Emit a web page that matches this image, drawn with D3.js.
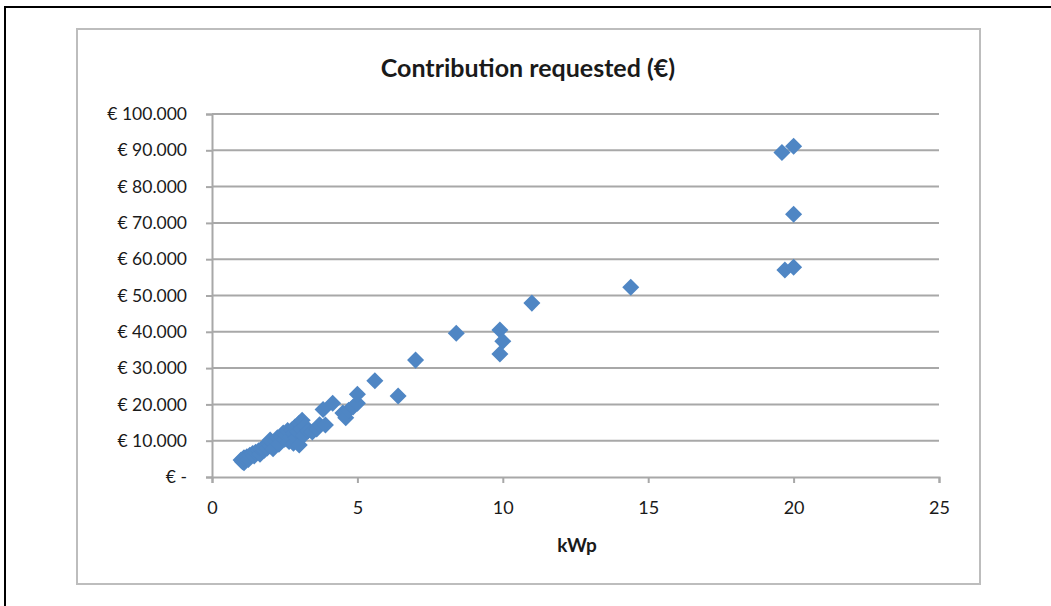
<!DOCTYPE html>
<html>
<head>
<meta charset="utf-8">
<script src="https://cdn.jsdelivr.net/npm/d3@7"></script>
<style>
  html, body { margin: 0; padding: 0; background: #fff; }
  svg { display: block; }
  text { font-family: Lato, "Open Sans", "Liberation Sans", sans-serif; fill: #1a1a1a; }
</style>
</head>
<body>
<svg id="chart" width="1051" height="606"></svg>
<script>
// Installed capacity (kWp) of each request
const kWp = [
  1.0, 1.05, 1.1, 1.1, 1.2, 1.25, 1.3, 1.4, 1.45, 1.5,
  1.6, 1.65, 1.7, 1.8, 1.8, 1.9, 1.95, 2.0, 2.0, 2.1,
  2.1, 2.2, 2.25, 2.3, 2.4, 2.45, 2.5, 2.55, 2.6, 2.65,
  2.7, 2.75, 2.8, 2.8, 2.85, 2.9, 2.95, 3.0, 3.0, 3.05,
  3.1, 3.15, 3.2, 3.3, 3.45, 3.6, 3.7, 3.82, 3.9, 4.15,
  4.5, 4.6, 4.7, 4.85, 5.0, 5.0, 5.6, 6.4, 7.0, 8.4,
  9.9, 10.0, 9.9, 11.0, 14.4, 19.6, 20.0, 20.0, 19.7, 20.0
];
// Contribution requested (€) for the same requests
const contribution = [
  4700, 4200, 3900, 5300, 5600, 4800, 6000, 6500, 5800, 6800,
  7200, 6300, 7700, 7400, 8300, 8000, 9000, 8600, 10200, 9400,
  7800, 9800, 10800, 9000, 11000, 12100, 10400, 11600, 12800, 9800,
  11000, 13000, 12000, 9300, 13800, 10800, 12500, 14800, 8800, 13200,
  15600, 11500, 14000, 12700, 12400, 13200, 14400, 18600, 14300, 20300,
  17600, 16300, 18400, 19300, 20300, 22800, 26500, 22300, 32200, 39600,
  40500, 37400, 33900, 47900, 52300, 89400, 91100, 72400, 57000, 57800
];
const xTicks = [0, 5, 10, 15, 20, 25];
const yTicks = [0, 10000, 20000, 30000, 40000, 50000, 60000, 70000, 80000, 90000, 100000];
const titleText = "Contribution requested (€)";
const xTitle = "kWp";

const points = kWp.map((k, i) => ({ k, c: contribution[i] }));

const svg = d3.select("#chart");

// Outer page frame
svg.append("rect")
  .attr("x", 5).attr("y", 7)
  .attr("width", 1060).attr("height", 620)
  .attr("fill", "none").attr("stroke", "#000").attr("stroke-width", 2);

// Chart area frame
svg.append("rect")
  .attr("x", 77).attr("y", 29)
  .attr("width", 903).attr("height", 555)
  .attr("fill", "#fff").attr("stroke", "#bdbdbd").attr("stroke-width", 2);

const plotLeft = 212, plotRight = 939, plotTop = 114, plotBottom = 477;

const x = d3.scaleLinear().domain([0, 25]).range([plotLeft, plotRight]);
const y = d3.scaleLinear().domain([0, 100000]).range([plotBottom, plotTop]);

const euro = v => v === 0 ? "€ -" : "€ " + d3.format(",")(v).replace(/,/g, ".");

// Horizontal gridlines
svg.append("g")
  .selectAll("line")
  .data(yTicks.filter(t => t > 0))
  .join("line")
  .attr("x1", plotLeft).attr("x2", plotRight)
  .attr("y1", d => y(d)).attr("y2", d => y(d))
  .attr("stroke", "#a8a8a8").attr("stroke-width", 2);

// Y axis
const yAxis = svg.append("g")
  .attr("transform", `translate(${plotLeft},0)`)
  .call(d3.axisLeft(y).tickValues(yTicks).tickFormat(euro).tickSize(6).tickPadding(19));
yAxis.select(".domain").attr("stroke", "#a8a8a8").attr("stroke-width", 2);
yAxis.selectAll(".tick line").attr("stroke", "#a8a8a8").attr("stroke-width", 2);
yAxis.selectAll(".tick text")
  .style("font-size", "17.5px").attr("fill", "#1a1a1a");

// X axis
const xAxis = svg.append("g")
  .attr("transform", `translate(0,${plotBottom})`)
  .call(d3.axisBottom(x).tickValues(xTicks).tickSize(6).tickPadding(18));
xAxis.select(".domain").attr("stroke", "#a8a8a8").attr("stroke-width", 2);
xAxis.selectAll(".tick line").attr("stroke", "#a8a8a8").attr("stroke-width", 2);
xAxis.selectAll(".tick text")
  .style("font-size", "18px").attr("fill", "#1a1a1a");

// Diamond markers
const diamond = d3.symbol().type(d3.symbolSquare).size(145);
svg.append("g")
  .selectAll("path")
  .data(points)
  .join("path")
  .attr("d", diamond)
  .attr("transform", d => `translate(${x(d.k)},${y(d.c)}) rotate(45)`)
  .attr("fill", "#4f86c4");

// Title
svg.append("text")
  .attr("x", 528).attr("y", 77)
  .attr("text-anchor", "middle")
  .style("font-size", "25px").style("font-weight", "bold")
  .text(titleText);

// X axis title
svg.append("text")
  .attr("x", 577).attr("y", 552)
  .attr("text-anchor", "middle")
  .style("font-size", "19px").style("font-weight", "bold")
  .text(xTitle);
</script>
</body>
</html>
